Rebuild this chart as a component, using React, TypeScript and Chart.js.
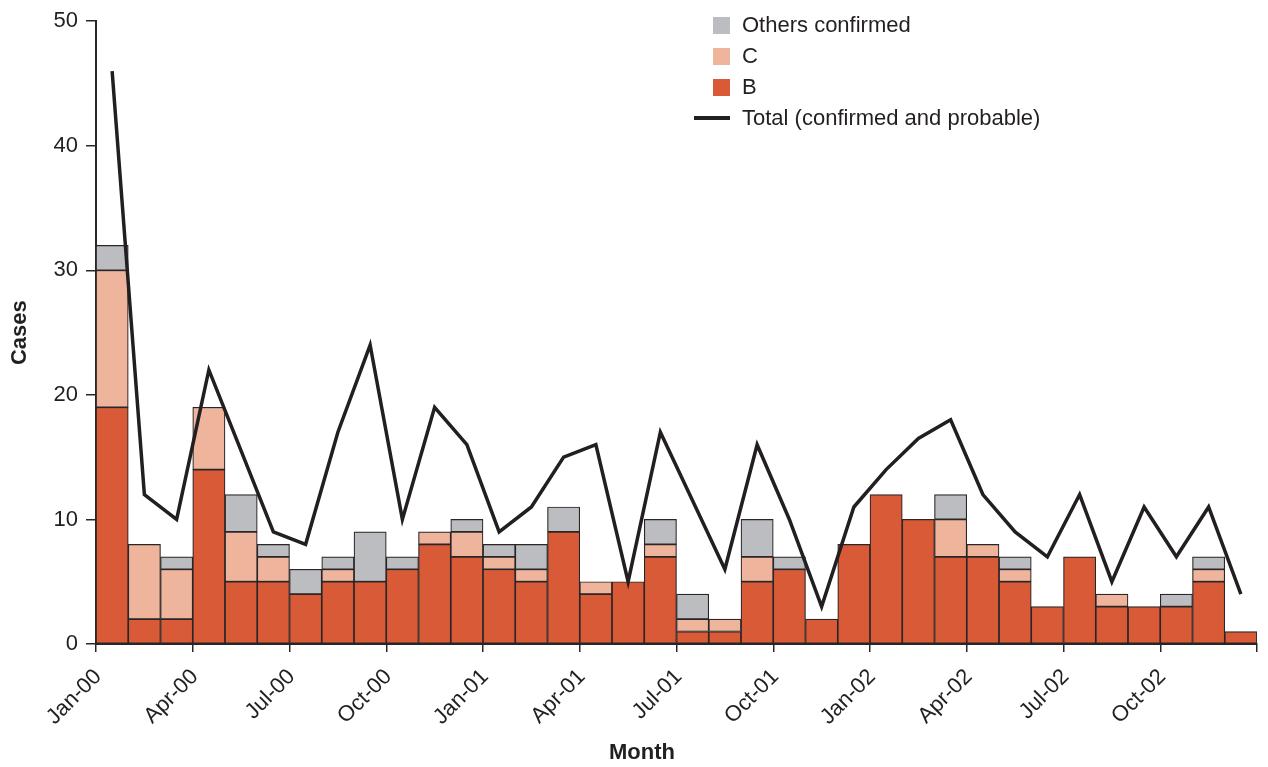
import { useEffect, useRef } from 'react';
import { Chart, registerables } from 'chart.js';

Chart.register(...registerables);

// months, Jan-00 .. Dec-02
const months = [
  'Jan-00', 'Feb-00', 'Mar-00', 'Apr-00', 'May-00', 'Jun-00', 'Jul-00', 'Aug-00', 'Sep-00', 'Oct-00', 'Nov-00', 'Dec-00',
  'Jan-01', 'Feb-01', 'Mar-01', 'Apr-01', 'May-01', 'Jun-01', 'Jul-01', 'Aug-01', 'Sep-01', 'Oct-01', 'Nov-01', 'Dec-01',
  'Jan-02', 'Feb-02', 'Mar-02', 'Apr-02', 'May-02', 'Jun-02', 'Jul-02', 'Aug-02', 'Sep-02', 'Oct-02', 'Nov-02', 'Dec-02',
];

const bCases = [19, 2, 2, 14, 5, 5, 4, 5, 5, 6, 8, 7, 6, 5, 9, 4, 5, 7, 1, 1, 5, 6, 2, 8, 12, 10, 7, 7, 5, 3, 7, 3, 3, 3, 5, 1];
const cCases = [11, 6, 4, 5, 4, 2, 0, 1, 0, 0, 1, 2, 1, 1, 0, 1, 0, 1, 1, 1, 2, 0, 0, 0, 0, 0, 3, 1, 1, 0, 0, 1, 0, 0, 1, 0];
const otherCases = [2, 0, 1, 0, 3, 1, 2, 1, 4, 1, 0, 1, 1, 2, 2, 0, 0, 2, 2, 0, 3, 1, 0, 0, 0, 0, 2, 0, 1, 0, 0, 0, 0, 1, 1, 0];
const totalCases = [46, 12, 10, 22, 15.5, 9, 8, 17, 24, 10, 19, 16, 9, 11, 15, 16, 5, 17, 11.5, 6, 16, 10, 3, 11, 14, 16.5, 18, 12, 9, 7, 12, 5, 11, 7, 11, 4];

const yTicks = [0, 10, 20, 30, 40, 50];

const B_COLOR = '#d95a36';
const C_COLOR = '#efb49c';
const OTHER_COLOR = '#bcbdc1';
const EDGE = '#2a2627';
const FONT = "'Liberation Sans', Arial, sans-serif";

const toPoints = (vals: number[]) => vals.map((v, i) => ({ x: i + 0.5, y: v }));

const App = () => {
  const canvasRef = useRef<HTMLCanvasElement>(null);
  const chartRef = useRef<Chart | null>(null);

  useEffect(() => {
    if (!canvasRef.current) return;
    if (chartRef.current) chartRef.current.destroy();

    const barStyle = {
      type: 'bar' as const,
      borderColor: EDGE,
      borderWidth: 1.2,
      borderSkipped: false,
      categoryPercentage: 1,
      barPercentage: 1,
      stack: 'cases',
      order: 1,
    };

    chartRef.current = new Chart(canvasRef.current, {
      type: 'bar',
      data: {
        datasets: [
          {
            type: 'line',
            label: 'Total (confirmed and probable)',
            data: toPoints(totalCases),
            borderColor: '#231f20',
            borderWidth: 3.5,
            pointRadius: 0,
            tension: 0,
            borderJoinStyle: 'miter',
            stack: 'total',
            order: 0,
          },
          { ...barStyle, label: 'B', data: toPoints(bCases), backgroundColor: B_COLOR },
          { ...barStyle, label: 'C', data: toPoints(cCases), backgroundColor: C_COLOR },
          { ...barStyle, label: 'Others confirmed', data: toPoints(otherCases), backgroundColor: OTHER_COLOR },
        ] as any,
      },
      options: {
        animation: false,
        responsive: true,
        maintainAspectRatio: false,
        layout: { padding: { top: 19, right: 11, bottom: 0, left: 0 } },
        plugins: {
          legend: { display: false },
          tooltip: { enabled: false },
        },
        scales: {
          x: {
            type: 'linear',
            stacked: true,
            offset: false,
            min: 0,
            max: 36,
            afterFit: (scale: any) => {
              scale.height = 123;
              scale.paddingLeft = 0;
              scale.paddingRight = 0;
            },
            afterBuildTicks: (scale: any) => {
              scale.ticks = Array.from({ length: 13 }, (_, k) => ({ value: k * 3 }));
            },
            border: { display: true, color: EDGE, width: 2 },
            grid: { display: true, offset: false, drawOnChartArea: false, tickLength: 8, color: EDGE, lineWidth: 1.5 },
            ticks: {
              minRotation: 45,
              maxRotation: 45,
              padding: 12,
              labelOffset: 2,
              autoSkip: false,
              color: '#231f20',
              font: { family: FONT, size: 22 },
              callback: (v: any) => months[Number(v)] ?? '',
            },
          },
          y: {
            stacked: true,
            min: 0,
            max: 50,
            afterFit: (scale: any) => {
              scale.width = 96;
            },
            afterBuildTicks: (scale: any) => {
              scale.ticks = yTicks.map((v) => ({ value: v }));
            },
            border: { display: true, color: EDGE, width: 2 },
            grid: { display: true, drawOnChartArea: false, tickLength: 10, color: EDGE, lineWidth: 1.5 },
            ticks: {
              padding: 8,
              color: '#231f20',
              font: { family: FONT, size: 22 },
            },
            title: {
              display: true,
              text: 'Cases',
              color: '#231f20',
              padding: { top: 7, bottom: 0 },
              font: { family: FONT, size: 22, weight: 'bold' },
            },
          },
        },
      },
    });

    return () => {
      if (chartRef.current) {
        chartRef.current.destroy();
        chartRef.current = null;
      }
    };
  }, []);

  const legendItems = [
    { label: 'Others confirmed', color: OTHER_COLOR, line: false },
    { label: 'C', color: C_COLOR, line: false },
    { label: 'B', color: B_COLOR, line: false },
    { label: 'Total (confirmed and probable)', color: '#231f20', line: true },
  ];

  return (
    <div style={{ position: 'fixed', left: 0, top: 0, width: 1268, height: 767, background: '#fff', fontFamily: FONT }}>
      <canvas ref={canvasRef}></canvas>
      <div style={{ position: 'absolute', left: 690, top: 9.5 }}>
        {legendItems.map((item) => (
          <div key={item.label} style={{ position: 'relative', height: 31, display: 'flex', alignItems: 'center' }}>
            <div style={{ width: 40, display: 'flex', justifyContent: 'flex-end', paddingRight: 12 }}>
              {item.line ? (
                <div style={{ width: 36, height: 3.5, background: item.color }} />
              ) : (
                <div style={{ width: 17, height: 17, background: item.color }} />
              )}
            </div>
            <span style={{ fontSize: 22, color: '#231f20', whiteSpace: 'nowrap' }}>{item.label}</span>
          </div>
        ))}
      </div>
      <div
        style={{
          position: 'absolute',
          left: 642,
          top: 752,
          transform: 'translate(-50%, -50%)',
          fontSize: 22,
          fontWeight: 'bold',
          color: '#231f20',
        }}
      >
        Month
      </div>
    </div>
  );
};

export default App;
